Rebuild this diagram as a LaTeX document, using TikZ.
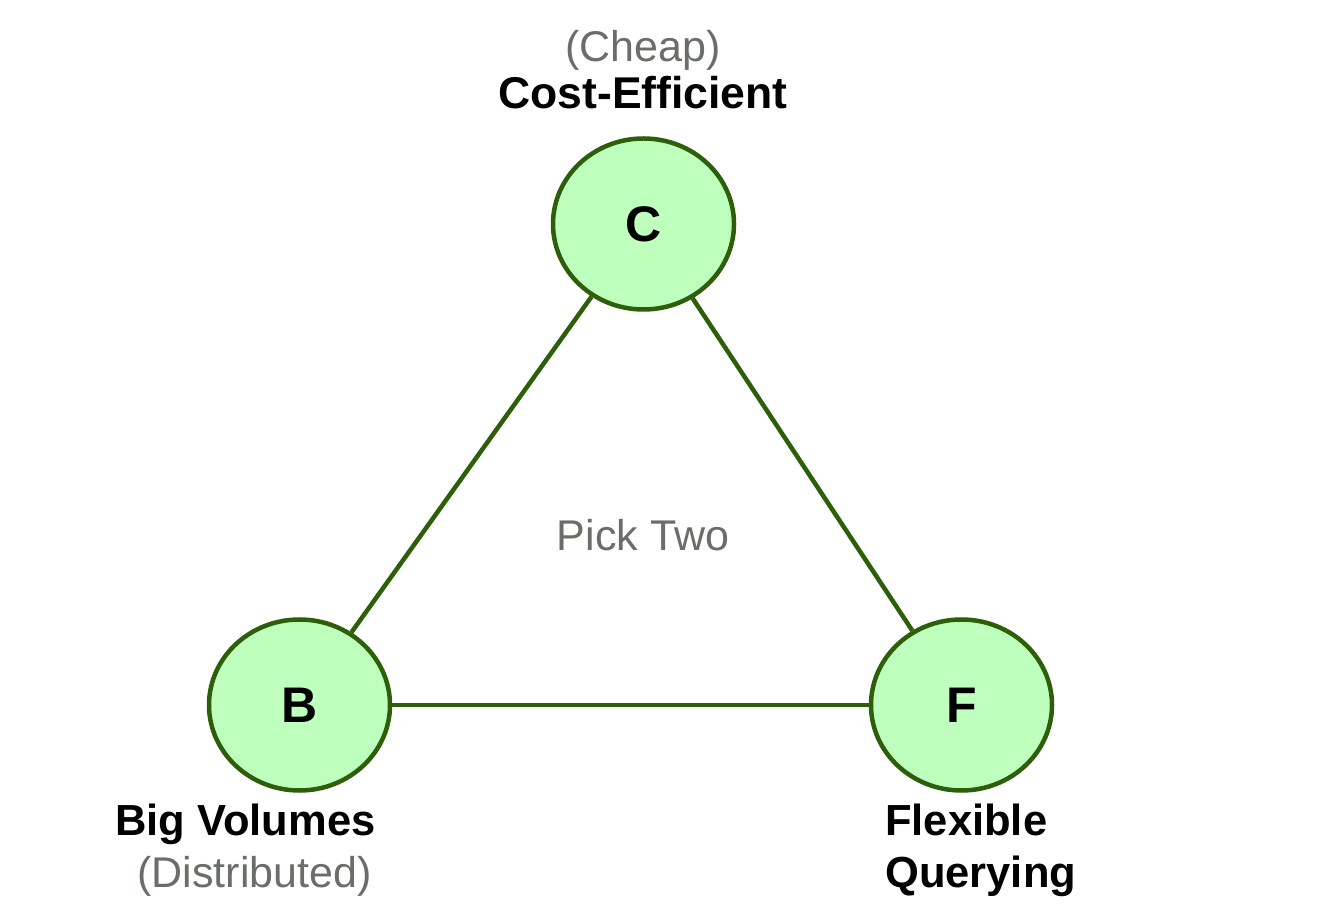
\documentclass[tikz,border=0pt]{standalone}
\usepackage{fontspec}
\setmainfont{Liberation Sans}
\usetikzlibrary{shapes.geometric}
\definecolor{verde}{RGB}{45,95,10}
\definecolor{verdino}{RGB}{190,255,190}
\definecolor{grigio}{RGB}{105,110,105}
\begin{document}
\begin{tikzpicture}[x=1pt, y=1pt, line width=4.5pt,
    main/.style = {draw=verde, fill=verdino, ellipse, minimum width=181pt, minimum height=171pt, inner sep=0pt, font=\fontsize{50}{50}\selectfont\bfseries},
    tit/.style = {inner sep=0pt, font=\fontsize{43.5}{43.5}\selectfont\bfseries},
    sub/.style = {inner sep=0pt, text=grigio, font=\fontsize{43}{43}\selectfont}]
    \useasboundingbox (0,0) rectangle (1319,913);
    % Disegna i vertici del triangolo
    \node[main] (0) at (643.5, 689) {C};
    \node[main] (1) at (299.5, 208) {B};
    \node[main] (2) at (961.5, 208) {F};

    \draw[verde] (0) to (1);
    \draw[verde] (1) to (2);
    \draw[verde] (2) to (0);

    \node[sub, anchor=base] (3) at (643, 851) {(Cheap)};
    \node[tit, anchor=base, font=\fontsize{44.5}{44.5}\selectfont\bfseries] (4) at (643, 804) {Cost-Efficient};
    \node[tit, anchor=base west] (5) at (113, 78) {Big Volumes};
    \node[sub, anchor=base east] (6) at (374, 26) {(Distributed)};
    \node[tit, anchor=base west] (7) at (883, 78) {Flexible};
    \node[tit, anchor=base west] (8) at (883, 26) {Querying};
    \node[sub, anchor=base] (9) at (643, 362) {Pick Two};

\end{tikzpicture}
\end{document}
